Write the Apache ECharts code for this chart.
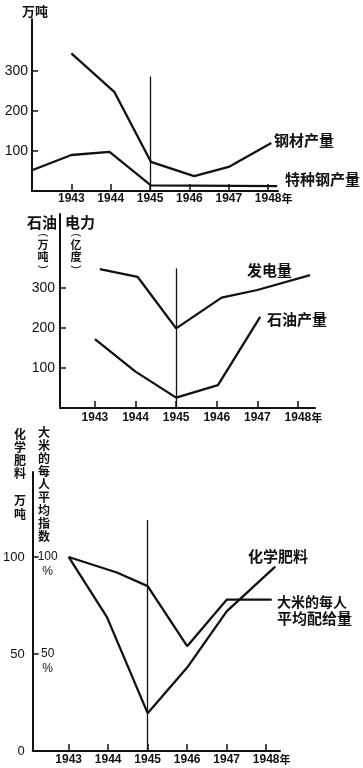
<!DOCTYPE html>
<html><head><meta charset="utf-8">
<script src="https://cdn.jsdelivr.net/npm/echarts@6/dist/echarts.min.js"></script>
<style>html,body{margin:0;padding:0;background:#fff}#c{width:363px;height:768px}</style>
</head><body><div id="c"></div>
<script>
// ---- data ----
const years = [1943, 1944, 1945, 1946, 1947, 1948];
// chart 1 (万吨)
const steelYears = [1943, 1944.09, 1945.02, 1946.12, 1947.02, 1948.08];
const steelValues = [344, 248, 73, 37, 61, 120];
const specialSteelYears = [1942, 1943, 1943.97, 1945.02, 1948.23];
const specialSteelValues = [52, 90, 98, 14, 12];
const ticks1 = [100, 200, 300];
// chart 2 (石油 万吨 / 电力 亿度)
const powerYears = [1943.12, 1944.05, 1945, 1946.12, 1947, 1948.3];
const powerValues = [347, 328, 199, 276, 295, 332];
const oilYears = [1943, 1944, 1945, 1946.03, 1947.07];
const oilValues = [172, 91, 26, 57, 228];
const ticks2 = [100, 200, 300];
// chart 3 (化学肥料 万吨 / 大米的每人平均指数 %)
const fertYears = [1943, 1943.97, 1945, 1946, 1947, 1948.23];
const fertValues = [100, 69, 19.5, 43, 72, 95];
const riceYears = [1943, 1944.22, 1945, 1946, 1947, 1948.14];
const riceValues = [100, 92, 85, 54, 78, 78];
const ticks3 = [0, 50, 100];
const ticks3pct = [50, 100];
// vertical 1945 marker tops
const markerTops = [286, 349, 119];

const zip = (xs, vs) => xs.map((x, i) => [x, vs[i]]);
const INK = '#111';
const NUM = '"Liberation Sans", Arial, sans-serif';
const NARROW = '"Liberation Sans Narrow", "Liberation Sans", sans-serif';
const CJK = '"Noto Sans CJK SC", sans-serif';

function xAxis(gi, min, max, margin) {
  return {
    type: 'value', gridIndex: gi, min: min, max: max,
    axisLine: {show: true, onZero: false, lineStyle: {color: INK, width: 2}},
    axisTick: {show: true, inside: true, length: 7, customValues: years, lineStyle: {color: INK, width: 1.5}},
    axisLabel: {
      customValues: years, margin: margin, color: INK, fontFamily: NARROW, fontWeight: 'bold', fontSize: 12,
      formatter: v => v === 1948 ? '{p|}1948{n|年}' : String(v),
      rich: {p: {width: 11}, n: {width: 11, fontFamily: CJK, fontSize: 11, fontWeight: 'bold', color: INK}}
    },
    splitLine: {show: false}
  };
}
function yAxis(gi, max, labels, ticks, margin, fs) {
  return {
    type: 'value', gridIndex: gi, min: 0, max: max,
    axisLine: {show: true, onZero: false, lineStyle: {color: INK, width: 2}},
    axisTick: {show: true, inside: true, length: 6, customValues: ticks, lineStyle: {color: INK, width: 1.5}},
    axisLabel: {customValues: labels, margin: margin, color: INK, fontFamily: NUM, fontSize: fs},
    splitLine: {show: false}
  };
}
function line(xi, yi, data) {
  return {
    type: 'line', xAxisIndex: xi, yAxisIndex: yi, data: data, symbol: 'none', silent: true,
    lineStyle: {color: INK, width: 2.3}, animation: false
  };
}
function marker(xi, yi, top) {
  return {
    type: 'line', xAxisIndex: xi, yAxisIndex: yi, data: [], symbol: 'none', animation: false,
    markLine: {silent: true, symbol: 'none', label: {show: false},
      lineStyle: {color: INK, width: 1.3, type: 'solid'},
      data: [[{coord: [1945, top]}, {coord: [1945, 0]}]]}
  };
}
function txt(left, top, text, size, lh) {
  return {type: 'text', left: left, top: top, silent: true,
    style: {text: text, fill: INK, font: 'bold ' + size + 'px ' + CJK, lineHeight: lh || size + 2}};
}
// upright CJK characters stacked vertically with arc brackets above and below
function vParen(cx, top, text) {
  return [
    {type: 'text', x: cx, y: top + 3, rotation: -Math.PI / 2, silent: true,
      style: {text: '(', fill: INK, font: '11px ' + NUM, align: 'center', verticalAlign: 'middle'}},
    {type: 'text', x: cx, y: top + 7, silent: true,
      style: {text: text, fill: INK, font: 'bold 11px ' + CJK, lineHeight: 12, align: 'center', verticalAlign: 'top'}},
    {type: 'text', x: cx, y: top + 35, rotation: -Math.PI / 2, silent: true,
      style: {text: ')', fill: INK, font: '11px ' + NUM, align: 'center', verticalAlign: 'middle'}}
  ];
}

const chart = echarts.init(document.getElementById('c'), null, {renderer: 'canvas'});
chart.setOption({
  backgroundColor: '#fff',
  animation: false,
  grid: [
    {left: 32, top: 19, width: 246, height: 172},
    {left: 60, top: 214, width: 255, height: 194},
    {left: 32, top: 472, width: 248, height: 279}
  ],
  xAxis: [
    xAxis(0, 1942, 1948.25, 2),
    xAxis(1, 1942.14, 1948.42, 4),
    xAxis(2, 1942.09, 1948.35, 3)
  ],
  yAxis: [
    yAxis(0, 430, ticks1, ticks1, 4, 14),
    yAxis(1, 485, ticks2, ticks2, 5, 14),
    yAxis(2, 143.8, ticks3, ticks3pct, 8, 13),
    {
      type: 'value', gridIndex: 2, min: 0, max: 143.8, position: 'left',
      axisLine: {show: false}, axisTick: {show: false}, splitLine: {show: false},
      axisLabel: {customValues: ticks3pct, inside: true, margin: 6, color: INK, fontFamily: NUM, fontSize: 12,
        lineHeight: 15,
        formatter: v => '{w|\u00a0}\n{w|' + v + '}\n{w|%}',
        rich: {w: {width: 18, align: 'center', fontSize: 12, lineHeight: 15, fontFamily: NUM, color: INK}}}
    }
  ],
  series: [
    line(0, 0, zip(steelYears, steelValues)),
    line(0, 0, zip(specialSteelYears, specialSteelValues)),
    marker(0, 0, markerTops[0]),
    line(1, 1, zip(powerYears, powerValues)),
    line(1, 1, zip(oilYears, oilValues)),
    marker(1, 1, markerTops[1]),
    line(2, 2, zip(fertYears, fertValues)),
    line(2, 2, zip(riceYears, riceValues)),
    marker(2, 2, markerTops[2])
  ],
  graphic: [
    txt(22, 4, '万吨', 13),
    txt(274, 132, '钢材产量', 15),
    txt(285, 171, '特种钢产量', 15),
    txt(27, 214, '石油', 15),
    txt(65, 214, '电力', 15),
    ...vParen(43, 232, '万\n吨'),
    ...vParen(76, 232, '亿\n度'),
    txt(247, 262, '发电量', 15),
    txt(267, 311, '石油产量', 15),
    txt(14, 428, '化\n学\n肥\n料', 12, 13),
    txt(14, 493, '万\n吨', 12, 14),
    txt(38, 426, '大\n米\n的\n每\n人\n平\n均\n指\n数', 12, 13),
    txt(248, 548, '化学肥料', 15),
    txt(277, 593, '大米的每人', 14, 17),
    txt(277, 610, '平均配给量', 15)
  ]
});
</script></body></html>
